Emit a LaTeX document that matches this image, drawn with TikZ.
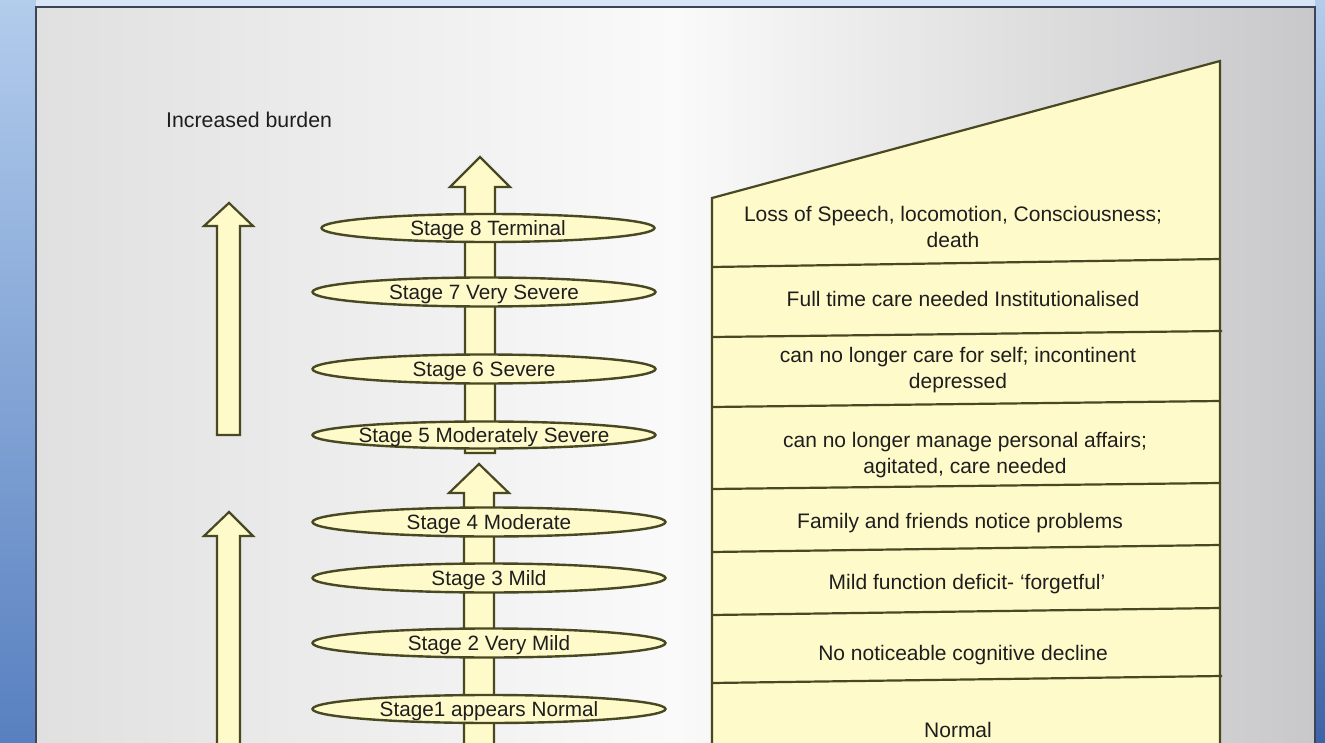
\documentclass[tikz,border=0pt]{standalone}
\usepackage{fontspec}
\setmainfont{Liberation Sans}
\usetikzlibrary{shapes.geometric}
\definecolor{fillyel}{RGB}{255,250,202}
\definecolor{edgeol}{RGB}{72,72,34}
\definecolor{txt}{RGB}{30,30,30}
\definecolor{bgleft}{RGB}{224,224,224}
\definecolor{bgmid}{RGB}{250,250,250}
\definecolor{bgright}{RGB}{200,200,202}
\definecolor{bluetop}{RGB}{178,204,236}
\definecolor{bluebot}{RGB}{88,128,192}
\definecolor{blueright}{RGB}{62,100,168}
\definecolor{framecol}{RGB}{60,68,88}
\begin{document}
\begin{tikzpicture}[x=1pt,y=-1pt,
  stage/.style={ellipse, draw=edgeol, fill=fillyel, line width=2.4pt,
    inner xsep=-50pt, inner ysep=-6pt, text height=15pt, text depth=0pt,
    font=\fontsize{20.7}{24}\selectfont, text=txt},
  desc/.style={align=center, font=\fontsize{21}{26}\selectfont, text=txt, inner sep=0pt},
  bigarrow/.style={draw=edgeol, fill=fillyel, line width=2.2pt, line join=miter},
  panel/.style={draw=edgeol, fill=fillyel, line width=2.2pt, line join=miter},
  divider/.style={draw=edgeol, line width=2.2pt}]
\useasboundingbox (0,0) rectangle (1325,743);
% outer blue frame
\shade[top color=bluetop, bottom color=bluebot] (0,0) rectangle (36,743);
\fill[bluetop!50!white] (36,0) rectangle (1325,7);
\shade[top color=bluetop, bottom color=blueright] (1315,0) rectangle (1325,743);
% slide background
\shade[left color=bgleft, right color=bgright, middle color=bgmid] (36,7) rectangle (1315,743);
\draw[framecol, line width=1.5pt] (36,743) -- (36,7) -- (1315,7) -- (1315,743);
% title
\node[font=\fontsize{21.3}{25}\selectfont, text=txt, anchor=west, inner sep=0pt] (title) at (166,120) {Increased burden};
% left arrows
\draw[bigarrow] (229,203) -- (253,226) -- (240,226) -- (240,435) -- (217,435) -- (217,226) -- (204,226) -- cycle;
\draw[bigarrow] (229,512) -- (253,536) -- (240,536) -- (240,760) -- (217,760) -- (217,536) -- (204,536) -- cycle;
% central arrows
\draw[bigarrow] (480,157) -- (510,187) -- (495,187) -- (495,453) -- (465,453) -- (465,187) -- (450,187) -- cycle;
\draw[bigarrow] (479,464) -- (509,493) -- (494,493) -- (494,760) -- (464,760) -- (464,493) -- (449,493) -- cycle;
% stage ellipses
\node[stage, minimum width=333pt, minimum height=28pt] (s8) at (488,228) {Stage 8 Terminal};
\node[stage, minimum width=343pt, minimum height=29pt] (s7) at (484,292) {Stage 7 Very Severe};
\node[stage, minimum width=343pt, minimum height=29pt] (s6) at (484,369) {Stage 6 Severe};
\node[stage, minimum width=343pt, minimum height=27pt] (s5) at (484,435) {Stage 5 Moderately Severe};
\node[stage, minimum width=353pt, minimum height=29pt] (s4) at (489,522) {Stage 4 Moderate};
\node[stage, minimum width=353pt, minimum height=29pt] (s3) at (489,578) {Stage 3 Mild};
\node[stage, minimum width=353pt, minimum height=29pt] (s2) at (489,643) {Stage 2 Very Mild};
\node[stage, minimum width=353pt, minimum height=28pt] (s1) at (489,709) {Stage1 appears Normal};
% right panel
\draw[panel] (712,198) -- (1220,61) -- (1220,760) -- (712,760) -- cycle;
\draw[divider] (712,267) -- (1220,259);
\draw[divider] (712,337) -- (1222,331);
\draw[divider] (712,407) -- (1220,401);
\draw[divider] (712,489) -- (1220,483);
\draw[divider] (712,552) -- (1220,545);
\draw[divider] (712,615) -- (1220,608);
\draw[divider] (712,683) -- (1222,676);
% descriptions
\node[desc] (d8) at (953,227) {Loss of Speech, locomotion, Consciousness;\\death};
\node[desc] (d7) at (963,299) {Full time care needed Institutionalised};
\node[desc] (d6) at (958,370) {can no longer care for self; incontinent\\depressed};
\node[desc] (d5) at (965,455) {can no longer manage personal affairs;\\agitated, care needed};
\node[desc] (d4) at (960,523) {Family and friends notice problems};
\node[desc] (d3) at (967,584) {Mild function deficit- ‘forgetful’};
\node[desc] (d2) at (963,655) {No noticeable cognitive decline};
\node[desc] (d1) at (958,730) {Normal};
\end{tikzpicture}
\end{document}
